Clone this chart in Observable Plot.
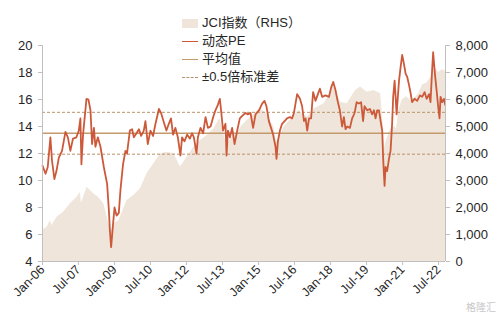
<!DOCTYPE html>
<html><head><meta charset="utf-8">
<script src="https://cdn.jsdelivr.net/npm/d3@7"></script>
<script src="https://cdn.jsdelivr.net/npm/@observablehq/plot@0.6"></script>
<style>
body{margin:0;background:#fff;font-family:Arial,"Liberation Sans","Noto Sans CJK SC",sans-serif;}
#wrap{position:relative;width:500px;height:318px;overflow:hidden}
#legend{position:absolute;left:182px;top:14px;font-size:13px;color:#262626;line-height:18px}
#legend div{display:flex;align-items:center;height:18px}
#legend .sw{width:16px;height:9px;margin-right:4px;flex:none}
#wm{position:absolute;right:4px;bottom:4px;font-size:10px;color:#c8c8c8;font-family:"Noto Sans CJK SC",sans-serif}
</style></head>
<body><div id="wrap">
<div id="chart"></div>
<div id="legend">
 <div><span class="sw" style="background:#efe5da"></span>JCI指数（RHS）</div>
 <div><span class="sw" style="height:0;border-top:1.5px solid #cc5a3a"></span>动态PE</div>
 <div><span class="sw" style="height:0;border-top:1.5px solid #c49a6c"></span>平均值</div>
 <div><span class="sw" style="height:0;border-top:1px dashed #b8926a"></span>±0.5倍标准差</div>
</div>
<div id="wm">格隆汇</div>
</div>
<script>
// month offsets from Jan-2006
const peMonth = [0,1.5,2.7,4,4.8,6,7,8.2,9.8,11.5,12.7,14,15.3,17,18.2,19,19.5,20.3,22,23,24,24.8,25.7,26.5,27.7,29,30.7,32.3,33.2,33.7,34.3,35.3,36,37,38.2,39,40.3,41.5,42.3,43.7,44.8,45.7,47,48.2,49.3,50.7,51.5,52.7,54,55.3,56.5,58.2,59.3,60.7,62,63.2,64.3,65.3,66.5,67.7,69,69.8,71,72.3,73.7,74.8,75.7,77,77.7,79,80.3,81.5,82.7,84,85.3,86.5,87.7,88.7,89.3,90.3,91.5,92,92.7,93.7,94.8,96,97.3,98.7,100,101.5,102.7,104,105.3,106.5,108.2,109.8,111,112,113.2,114.3,115.3,116.5,117,117.7,118.7,119.8,121,122.3,123.7,124.8,125.7,126.5,127.3,128.7,129.8,130.7,131.5,132.3,133.2,134.3,135.3,136.5,137.7,138.7,139.8,141.5,143.2,144.3,145.3,146.5,147.7,148.7,149.8,150.7,151.5,152.3,153.7,154.8,156,157,158.2,159.3,160.3,161,162.3,163.7,164.8,165.7,166.5,167.3,168.2,169,169.8,170.3,170.7,171,171.5,172.3,173.2,174,174.8,175.3,176,176.5,177,178.2,179,179.8,180.7,181.5,182.3,183.2,184,184.8,186,187.3,188.7,189.8,191,192,193.2,194,194.8,195.3,196.2,197,197.8,198.5,199,199.8,200.7,201.3];
const peValue = [11.1,10.5,11.0,13.2,11.5,10.1,10.7,11.7,12.2,13.6,13.2,12.2,13.1,13.2,13.7,14.6,11.2,13.4,16.05,16.0,15.2,12.7,13.9,12.5,13.2,12.5,11.0,9.75,7.8,6.3,5.06,6.8,8.0,7.4,7.6,9.3,11.2,12.2,12.0,13.7,13.8,13.2,13.5,13.8,13.3,13.7,14.4,12.7,13.7,13.3,14.2,15.3,15.0,14.3,13.7,14.2,14.6,13.4,13.9,13.2,11.85,13.2,12.9,13.4,13.1,13.5,13.2,12.0,13.2,13.9,13.5,14.7,13.9,14.0,14.7,15.2,15.6,16.05,15.2,13.7,14.2,11.85,13.7,13.2,13.9,12.7,13.7,14.6,14.8,15.0,14.9,15.0,13.9,14.9,15.2,15.7,15.9,15.5,14.4,13.9,13.4,12.5,11.6,12.9,13.7,14.2,14.4,14.6,14.7,14.6,15.0,15.7,16.4,16.05,15.5,14.4,14.6,13.7,14.6,14.6,16.55,15.9,16.4,16.8,16.2,16.3,16.2,16.9,17.3,16.7,15.8,15.2,14.0,14.7,13.8,14.0,13.9,14.6,15.0,15.8,15.7,15.8,14.4,15.5,15.2,15.3,14.9,15.2,14.6,15.2,15.2,14.4,13.7,11.7,10.5,9.6,11.0,10.7,11.6,12.2,14.2,16.2,17.4,16.2,14.9,17.4,18.4,19.3,18.6,17.9,17.7,17.1,16.5,15.8,16.05,15.9,16.3,16.2,16.55,16.05,16.4,15.8,18.15,19.5,17.9,16.7,15.5,14.6,16.2,15.8,16.05,15.6];
const jciMonth = [0,2.3,4,4.8,7.3,10.7,14,17.3,19,19.5,22.3,24,25.7,28,30.7,33.2,34.3,36.5,38.2,39.8,42.3,45.7,49,52.3,55.7,59,62.3,65.7,69,72.3,75.7,79,82.3,85.7,88.7,90.7,92,94.8,97.3,99.8,104,109,111.5,115.7,117,120.7,125.7,128.2,132.3,135.7,140.7,144,145.3,149,152.3,156.5,159,162.3,165.7,169,170,171,172,174,176,177,178,180,182,184,186,188,190,192,194,196,198,200,201.5];
const jciValue = [1170,1270,1500,1330,1640,1830,2140,2380,2560,2150,2750,2630,2500,2380,2140,1400,1150,1440,1500,1800,2260,2440,2700,3250,3620,3990,4050,3990,3500,3860,4230,4480,4670,4910,5300,4720,4300,4600,4720,5030,5340,5650,5530,4970,4400,4970,5400,5590,5340,5650,5840,6210,6500,5900,5840,6330,6460,6270,6330,6210,5400,4200,4500,4900,5000,4900,5600,6000,6100,5950,6050,6200,6550,6600,6800,7200,7000,7100,7050];
const peMean = 13.5;
const peHalfStd = 1.55;
const leftTicks = [4,6,8,10,12,14,16,18,20];
const rightTicks = [0,1000,2000,3000,4000,5000,6000,7000,8000];
const xTickLabels = ["Jan-06","Jul-07","Jan-09","Jul-10","Jan-12","Jul-13","Jan-15","Jul-16","Jan-18","Jul-19","Jan-21","Jul-22"];
const xStart = "2006-01-01", xEnd = "2022-10-15";

const start = new Date(xStart);
const toDate = m => { const w = Math.floor(m); return d3.utcDay.offset(d3.utcMonth.offset(start, w), Math.round((m - w) * 30)); };
const pe = peMonth.map((m, i) => ({date: toDate(m), v: peValue[i]}));
const jci = jciMonth.map((m, i) => ({date: toDate(m), v: jciValue[i]}));
const parseTick = d3.utcParse("%b-%y");
const xTicks = xTickLabels.map(parseTick);
const toLeft = v => 4 + v / 500; // right axis 0..8000 maps to left 4..20
const fmtX = d3.utcFormat("%b-%y");
const fmtR = d3.format(",");

const chart = Plot.plot({
  width: 500, height: 318,
  marginLeft: 42, marginRight: 55, marginTop: 45, marginBottom: 57,
  style: {fontSize: "13px", fontFamily: "Arial, 'Liberation Sans', sans-serif", color: "#262626", background: "#fff"},
  x: {type: "utc", domain: [start, new Date(xEnd)]},
  y: {domain: [4, 20]},
  marks: [
    Plot.areaY(jci, {x: "date", y1: 4, y2: d => toLeft(d.v), fill: "#efe5da"}),
    Plot.ruleY([peMean - peHalfStd, peMean + peHalfStd], {stroke: "#b8926a", strokeWidth: 1, strokeDasharray: "3,2"}),
    Plot.ruleY([peMean], {stroke: "#c49a6c", strokeWidth: 1.5}),
    Plot.lineY(pe, {x: "date", y: "v", stroke: "#cc5a3a", strokeWidth: 1.8}),
    Plot.ruleX([start], {stroke: "#bfbfbf"}),
    Plot.ruleX([new Date(xEnd)], {stroke: "#bfbfbf"}),
    Plot.ruleY([4], {stroke: "#bfbfbf"}),
    Plot.axisY(leftTicks, {anchor: "left", tickSize: 4, tickPadding: 6, stroke: "#bfbfbf", fill: "#262626", label: null}),
    Plot.axisY(rightTicks.map(toLeft), {anchor: "right", tickSize: 4, tickPadding: 6, stroke: "#bfbfbf", fill: "#262626", label: null, tickFormat: y => fmtR(Math.round((y - 4) * 500))}),
    Plot.axisX(xTicks, {anchor: "bottom", tickSize: 4, tickPadding: 2, tickRotate: -45, stroke: "#bfbfbf", fill: "#262626", label: null, tickFormat: fmtX, fontSize: 12.5})
  ]
});
document.getElementById("chart").appendChild(chart);
</script>
</body></html>
